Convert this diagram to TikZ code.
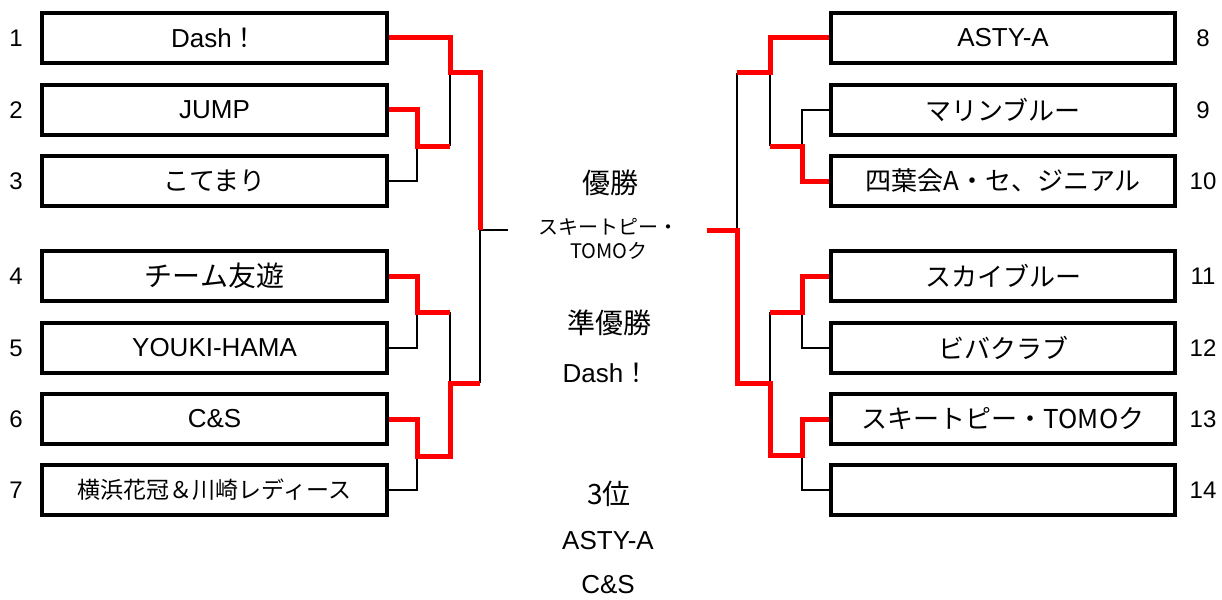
\documentclass[tikz,border=0pt]{standalone}
\usepackage{fontspec}
\setmainfont{Liberation Sans}
\newfontfamily\jp{Noto Sans CJK JP}
\newcommand{\fs}[1]{\fontsize{#1}{#1}\selectfont}
\begin{document}
\begin{tikzpicture}[x=1pt,y=-1pt,
  teambox/.style={draw, line width=2.7pt, minimum width=343pt, minimum height=48pt, inner sep=0pt},
  lose/.style={line width=2.8pt, black, line join=miter},
  win/.style={line width=5pt, red, line join=miter},
  numlab/.style={inner sep=0pt, font=\fs{24}},
  ctext/.style={inner sep=0pt}]
\useasboundingbox (0,0) rectangle (1222,599);

% left boxes
\node[teambox] (b1) at (214.5,38)  {\fs{26}Dash{\jp ！}};
\node[teambox] (b2) at (214.5,110) {\fs{26}JUMP};
\node[teambox] (b3) at (214.5,181) {\jp\fs{26}こてまり};
\node[teambox] (b4) at (214.5,276) {\jp\fs{28}チーム友遊};
\node[teambox] (b5) at (214.5,348) {\fs{26}YOUKI-HAMA};
\node[teambox] (b6) at (214.5,419) {\fs{26}C\&S};
\node[teambox] (b7) at (214.5,490) {\jp\fs{23}横浜花冠＆川崎レディース};
% right boxes
\node[teambox] (b8)  at (1003,38)  {\fs{26}ASTY-A};
\node[teambox] (b9)  at (1003,110) {\jp\fs{26}マリンブルー};
\node[teambox] (b10) at (1003,181) {\jp\fs{26}四葉会A・セ、ジニアル};
\node[teambox] (b11) at (1003,276) {\jp\fs{26}スカイブルー};
\node[teambox] (b12) at (1003,348) {\jp\fs{26}ビバクラブ};
\node[teambox] (b13) at (1003,419) {\jp\fs{26}スキートピー・TOMOク};
\node[teambox] (b14) at (1003,490) {};

% numbers
\node[numlab] (n1) at (16,38) {1};
\node[numlab] (n2) at (16,110) {2};
\node[numlab] (n3) at (16,181) {3};
\node[numlab] (n4) at (16,276) {4};
\node[numlab] (n5) at (16,348) {5};
\node[numlab] (n6) at (16,419) {6};
\node[numlab] (n7) at (16,490) {7};
\node[numlab] (n8) at (1203,38) {8};
\node[numlab] (n9) at (1203,110) {9};
\node[numlab] (n10) at (1203,181) {10};
\node[numlab] (n11) at (1203,276) {11};
\node[numlab] (n12) at (1203,348) {12};
\node[numlab] (n13) at (1203,419) {13};
\node[numlab] (n14) at (1203,490) {14};

% center texts
\node[ctext] (c1) at (610,183) {\jp\fs{28}優勝};
\node[ctext] (c2) at (608,227) {\jp\fs{20}スキートピー・};
\node[ctext] (c3) at (609,251) {\jp\fs{20}TOMOク};
\node[ctext] (c4) at (609,323) {\jp\fs{28}準優勝};
\node[ctext] (c5) at (606,373) {\fs{26}Dash{\jp ！}};
\node[ctext] (c6) at (609,494) {\jp\fs{28}3位};
\node[ctext] (c7) at (608,541) {\fs{26}ASTY-A};
\node[ctext] (c8) at (608,585) {\fs{26}C\&S};

% junction coordinates, left
\coordinate (aL) at (417,146);
\coordinate (bL) at (450,146);
\coordinate (cL) at (450,73);
\coordinate (dL) at (480,73);
\coordinate (eL) at (480,230);
\coordinate (fL) at (417,312);
\coordinate (gL) at (450,312);
\coordinate (hL) at (450,383);
\coordinate (iL) at (480,383);
\coordinate (jL) at (417,456);
\coordinate (kL) at (450,456);
\coordinate (mL) at (508,230);
% junction coordinates, right
\coordinate (aR) at (802,146);
\coordinate (bR) at (770,146);
\coordinate (cR) at (770,73);
\coordinate (dR) at (737,73);
\coordinate (eR) at (737,230);
\coordinate (fR) at (802,312);
\coordinate (gR) at (770,312);
\coordinate (hR) at (770,383);
\coordinate (iR) at (737,383);
\coordinate (jR) at (802,455);
\coordinate (kR) at (770,455);
\coordinate (mR) at (707,230);

% losing lines
\draw[lose] (b3.east) -| (aL);
\draw[lose] (bL) -- (cL);
\draw[lose] (b5.east) -| (fL);
\draw[lose] (gL) -- (hL);
\draw[lose] (b7.east) -| (jL);
\draw[lose] (iL) -- (eL) -- (mL);
\draw[lose] (dR) -- (eR);
\draw[lose] (b9.west) -| (aR);
\draw[lose] (bR) -- (cR);
\draw[lose] (b12.west) -| (fR);
\draw[lose] (gR) -- (hR);
\draw[lose] (b14.west) -| (jR);

% winning lines
\draw[win] (b1.east) -| (cL) -- (dL) -- (eL);
\draw[win] (b2.east) -| (aL) -- (bL);
\draw[win] (b4.east) -| (fL) -- (gL);
\draw[win] (b6.east) -| (jL) -- (kL) -- (hL) -- (iL);
\draw[win] (b8.west) -| (cR) -- (dR);
\draw[win] (b10.west) -| (aR) -- (bR);
\draw[win] (b11.west) -| (fR) -- (gR);
\draw[win] (b13.west) -| (jR) -- (kR) -- (hR) -- (iR) -- (eR) -- (mR);

% redraw boxes on top
\foreach \b in {b1,b2,b3,b4,b5,b6,b7,b8,b9,b10,b11,b12,b13,b14}
  \draw[line width=2.7pt] (\b.south west) rectangle (\b.north east);
\end{tikzpicture}
\end{document}
